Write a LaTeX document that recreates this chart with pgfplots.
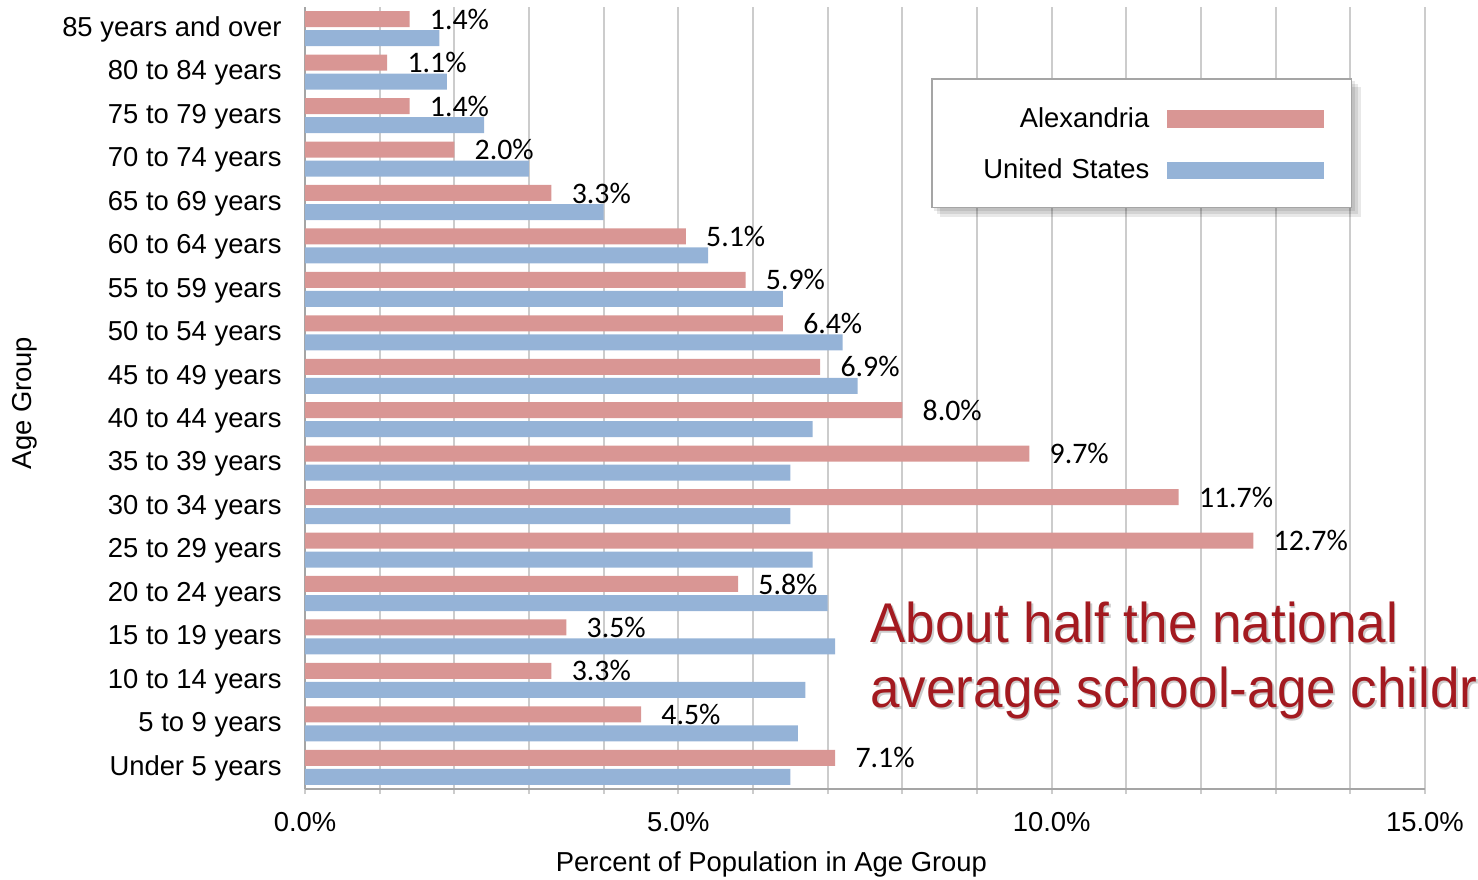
\documentclass[border=0pt]{standalone}
\usepackage{graphicx}
\usepackage{pgfplots}
\pgfplotsset{compat=1.18}
\usepackage{fontspec}
\setmainfont{Liberation Sans}
\newfontfamily\calibri{Carlito}
\definecolor{alexpink}{RGB}{217,150,148}
\definecolor{usblue}{RGB}{149,179,215}
\definecolor{gridgray}{RGB}{204,204,204}
\definecolor{axisgray}{RGB}{165,165,165}
\definecolor{annred}{RGB}{163,26,32}
\newcommand{\lblfont}{\fontsize{13.7}{16}\selectfont}
\newcommand{\datfont}{\calibri\fontsize{14.9}{17}\selectfont}
\newcommand{\annfont}{\fontsize{28}{32}\selectfont}
\pgfplotsset{
  mylegimg/.style={legend image code/.code={\fill[##1] (0pt,-5.3pt) rectangle (78.5pt,3.35pt);}},
}
\begin{document}
\begin{tikzpicture}
\begin{axis}[
  xbar, scale only axis, width=560pt, height=391pt,
  xmin=0, xmax=15, ymin=-0.5, ymax=17.5,
  enlargelimits=false, clip=false,
  bar width=0.368,
  xtick={0,5,10,15}, xticklabels={0.0\%,5.0\%,10.0\%,15.0\%},
  minor xtick={1,2,3,4,6,7,8,9,11,12,13,14},
  xmajorgrids, xminorgrids,
  grid style={draw=gridgray, line width=1pt},
  minor grid style={draw=gridgray, line width=1pt},
  ytick={0,...,17},
  yticklabels={Under 5 years, 5 to 9 years, 10 to 14 years, 15 to 19 years, 20 to 24 years, 25 to 29 years, 30 to 34 years, 35 to 39 years, 40 to 44 years, 45 to 49 years, 50 to 54 years, 55 to 59 years, 60 to 64 years, 65 to 69 years, 70 to 74 years, 75 to 79 years, 80 to 84 years, 85 years and over},
  separate axis lines,
  axis x line*=bottom, axis y line*=left,
  axis line style={-, draw=axisgray, line width=1pt},
  tick align=outside,
  xtick style={draw=gridgray, line width=1pt},
  major tick length=2.5pt, minor tick length=2.5pt,
  ytick style={draw=none},
  tick label style={font=\lblfont},
  xticklabel style={inner sep=0pt, yshift=-9pt},
  yticklabel style={inner xsep=0pt, xshift=-9pt, yshift=-0.5pt},
  xlabel={Percent of Population in Age Group},
  xlabel style={font=\lblfont, at={(axis description cs:0.4165,-0.1049)}, anchor=base},
  ylabel={Age Group},
  ylabel style={font=\lblfont, at={(axis description cs:-0.25,0.4936)}, anchor=center},
  mylegimg,
  legend plot pos=right,
  legend cell align=right,
  legend style={at={(0.559,0.909)}, anchor=north west, draw=axisgray, fill=white,
    line width=0.75pt, inner xsep=13.5pt, inner ysep=14.1pt, row sep=15.45pt,
    column sep=9pt, font=\lblfont,
    nodes={inner sep=0pt, text width=95.25pt, align=right, text height=10pt, text depth=0pt}},
]
\addplot[fill=alexpink, draw=none, bar shift=0.219, point meta=x,
  nodes near coords={\pgfmathprintnumber[fixed,fixed zerofill,precision=1,assume math mode=true]{\pgfplotspointmeta}\%},
  nodes near coords style={font=\datfont, anchor=west, inner sep=0pt, xshift=10pt, text=black}]
coordinates {
(7.1,0) (4.5,1) (3.3,2) (3.5,3) (5.8,4) (12.7,5) (11.7,6) (9.7,7) (8.0,8)
(6.9,9) (6.4,10) (5.9,11) (5.1,12) (3.3,13) (2.0,14) (1.4,15) (1.1,16) (1.4,17)
};
\addlegendentry{Alexandria}
\addplot[fill=usblue, draw=none, bar shift=-0.219]
coordinates {
(6.5,0) (6.6,1) (6.7,2) (7.1,3) (7.0,4) (6.8,5) (6.5,6) (6.5,7) (6.8,8)
(7.4,9) (7.2,10) (6.4,11) (5.4,12) (4.0,13) (3.0,14) (2.4,15) (1.9,16) (1.8,17)
};
\addlegendentry{United States}
% soft shadow behind the legend box
\fill[black, opacity=0.09] ([xshift=1.5pt,yshift=-1.5pt]rel axis cs:0.5589,0.7430) rectangle ([xshift=1.5pt,yshift=-1.5pt]rel axis cs:0.9348,0.9092);
\fill[black, opacity=0.09] ([xshift=3pt,yshift=-3pt]rel axis cs:0.5589,0.7430) rectangle ([xshift=3pt,yshift=-3pt]rel axis cs:0.9348,0.9092);
\fill[black, opacity=0.09] ([xshift=4.5pt,yshift=-4.5pt]rel axis cs:0.5589,0.7430) rectangle ([xshift=4.5pt,yshift=-4.5pt]rel axis cs:0.9348,0.9092);
\coordinate (O) at (rel axis cs:0,0);
\node[anchor=base west, inner sep=0pt, text=black, opacity=0.2] at ([xshift=0.8pt,yshift=-0.8pt]rel axis cs:0.5045,0.187) {\annfont\scalebox{0.947}[1]{About half the national}};
\node[anchor=base west, inner sep=0pt, text=annred] at (rel axis cs:0.5045,0.187) {\annfont\scalebox{0.947}[1]{About half the national}};
\node[anchor=base west, inner sep=0pt, text=black, opacity=0.2] at ([xshift=0.8pt,yshift=-0.8pt]rel axis cs:0.5045,0.1036) {\annfont\scalebox{0.947}[1]{average school-age children}};
\node[anchor=base west, inner sep=0pt, text=annred] at (rel axis cs:0.5045,0.1036) {\annfont\scalebox{0.947}[1]{average school-age children}};
\end{axis}
\pgfresetboundingbox
\path (O) ++(-152.5pt,-45pt) rectangle ++(739pt,439.5pt);
\end{tikzpicture}
\end{document}
